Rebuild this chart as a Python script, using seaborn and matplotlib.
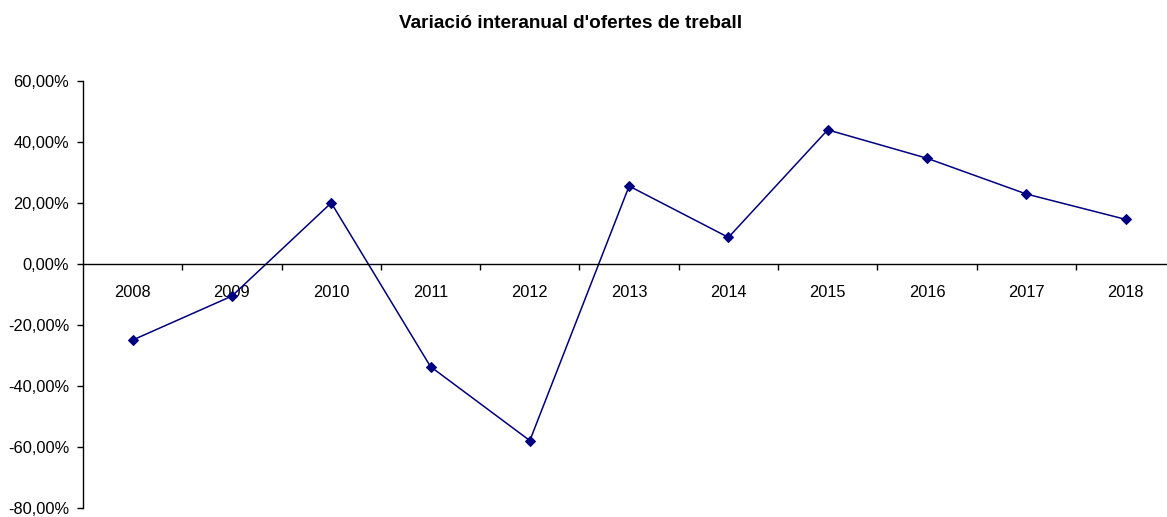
import numpy as np
import pandas as pd
import matplotlib
matplotlib.use("Agg")
import matplotlib.pyplot as plt
from matplotlib.ticker import FuncFormatter, FixedLocator
import seaborn as sns

# Data
years = ["2008", "2009", "2010", "2011", "2012", "2013",
         "2014", "2015", "2016", "2017", "2018"]
variation = [-24.9, -10.5, 20.0, -33.6, -57.8, 25.5,
             8.7, 43.9, 34.6, 22.9, 14.6]
y_ticks = [-80, -60, -40, -20, 0, 20, 40, 60]

sns.set_style("white")
plt.rcParams["font.family"] = ["Liberation Sans", "DejaVu Sans"]
plt.rcParams["text.color"] = "black"
plt.rcParams["xtick.color"] = "black"
plt.rcParams["ytick.color"] = "black"

df = pd.DataFrame({"pos": np.arange(len(years)), "value": variation})

fig = plt.figure(figsize=(11.67, 5.17), dpi=100)
ax = fig.add_axes([0.0711, 0.0166, 0.936, 0.8274])

sns.lineplot(data=df, x="pos", y="value", ax=ax, color="#000080",
             marker="D", markersize=5.5, markeredgecolor="#000080",
             linewidth=1.1, legend=False)

ax.set_xlim(-0.5, len(years) - 0.5)
ax.set_ylim(-80, 60)

# axes look like Excel: x axis crossing at 0, only left spine
for side in ["top", "right"]:
    ax.spines[side].set_visible(False)
ax.spines["bottom"].set_position(("data", 0))
for side in ["left", "bottom"]:
    ax.spines[side].set_linewidth(1.0)
    ax.spines[side].set_color("black")

ax.yaxis.set_major_locator(FixedLocator(y_ticks))
ax.yaxis.set_major_formatter(FuncFormatter(lambda v, p: f"{v:.2f}".replace(".", ",") + "%"))
ax.tick_params(axis="y", direction="out", length=4, width=1, colors="black",
               labelsize=11.8, pad=6, left=True)

ax.set_xticks(np.arange(len(years)))
ax.set_xticklabels(years)
ax.set_xticks(np.arange(len(years)) + 0.5, minor=True)
ax.tick_params(axis="x", which="major", length=0, labelsize=11.8, pad=15,
               labelcolor="black")
ax.tick_params(axis="x", which="minor", direction="out", length=4, width=1,
               color="black", bottom=True)

ax.set_xlabel("")
ax.set_ylabel("")
ax.grid(False)

fig.text(0.489, 0.955, "Variació interanual d'ofertes de treball",
         ha="center", va="center", fontsize=13.7, fontweight="bold",
         color="black")

fig.savefig("out.png", dpi=100)
